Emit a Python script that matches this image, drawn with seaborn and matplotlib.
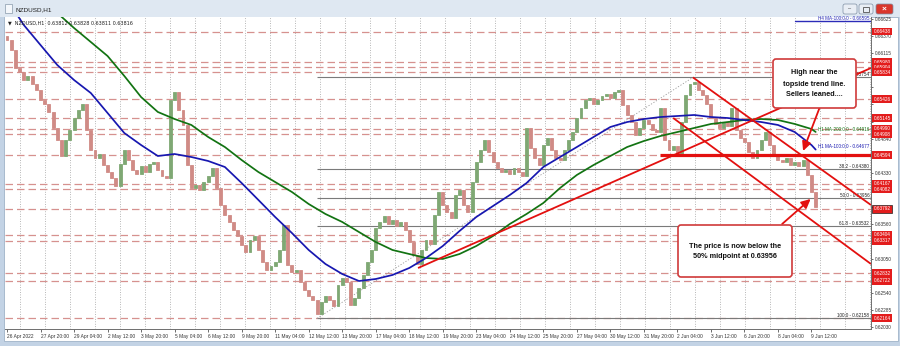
import numpy as np
import pandas as pd
import matplotlib
matplotlib.use("Agg")
import matplotlib.pyplot as plt
import matplotlib.transforms as mtransforms
import seaborn as sns
from matplotlib.patches import FancyBboxPatch, Rectangle

# ---------------- data ----------------
# 4-hour sampled closes of NZDUSD H1, 26 Apr 2022 -> 9 Jun 2022
first_open = 0.66370
closes = [
    0.66312, 0.66163, 0.65894, 0.65834, 0.65715, 0.65775, 0.65655, 0.65566, 0.65417, 0.65357,
    0.65238, 0.64999, 0.64820, 0.64581, 0.64820, 0.64969, 0.65148, 0.65267, 0.65357, 0.64969,
    0.64671, 0.64551, 0.64611, 0.64447, 0.64342, 0.64253, 0.64134, 0.64462, 0.64671, 0.64521,
    0.64372, 0.64313, 0.64432, 0.64342, 0.64462, 0.64492, 0.64372, 0.64283, 0.64253, 0.65417,
    0.65536, 0.65267, 0.65044, 0.64447, 0.64104, 0.64149, 0.64074, 0.64193, 0.64283, 0.64402,
    0.64104, 0.63850, 0.63701, 0.63597, 0.63477, 0.63388, 0.63253, 0.63149, 0.63328, 0.63388,
    0.63179, 0.63000, 0.62880, 0.62940, 0.63000, 0.63179, 0.63552, 0.62955, 0.62851, 0.62880,
    0.62701, 0.62582, 0.62493, 0.62433, 0.62224, 0.62403, 0.62493, 0.62433, 0.62343, 0.62657,
    0.62761, 0.62701, 0.62358, 0.62463, 0.62612, 0.62806, 0.63000, 0.63179, 0.63507, 0.63597,
    0.63686, 0.63567, 0.63626, 0.63537, 0.63597, 0.63477, 0.63298, 0.63104, 0.62970, 0.63179,
    0.63328, 0.63268, 0.63701, 0.64044, 0.63850, 0.63746, 0.63656, 0.63999, 0.64074, 0.63850,
    0.63746, 0.64193, 0.64492, 0.64671, 0.64820, 0.64641, 0.64492, 0.64402, 0.64342, 0.64372,
    0.64313, 0.64402, 0.64342, 0.64283, 0.64999, 0.64700, 0.64551, 0.64447, 0.64745, 0.64850,
    0.64671, 0.64551, 0.64521, 0.64671, 0.64820, 0.64939, 0.65148, 0.65297, 0.65417, 0.65446,
    0.65357, 0.65417, 0.65476, 0.65506, 0.65446, 0.65536, 0.65566, 0.65342, 0.65193, 0.65088,
    0.64894, 0.64999, 0.65118, 0.65059, 0.64969, 0.64939, 0.65297, 0.64820, 0.64671, 0.64730,
    0.64596, 0.65088, 0.65491, 0.65655, 0.65685, 0.65566, 0.65491, 0.65357, 0.65148, 0.65059,
    0.64999, 0.65088, 0.65029, 0.65297, 0.64969, 0.64850, 0.64790, 0.64641, 0.64551, 0.64671,
    0.64820, 0.64939, 0.64745, 0.64611, 0.64521, 0.64492, 0.64551, 0.64447, 0.64492, 0.64432,
    0.64521, 0.64298, 0.64044, 0.63816,
]

ma_x = list(range(0, 193, 4)) + [193]
ma100 = [
    0.66920, 0.66536, 0.66237, 0.65939, 0.65715, 0.65521, 0.65223, 0.64924, 0.64745, 0.64581,
    0.64611, 0.64566, 0.64507, 0.64417, 0.64178, 0.63925, 0.63671, 0.63432, 0.63179, 0.62970,
    0.62821, 0.62716, 0.62746, 0.62806, 0.62910, 0.63059, 0.63238, 0.63462, 0.63671, 0.63835,
    0.63999, 0.64178, 0.64417, 0.64566, 0.64715, 0.64865, 0.65014, 0.65088, 0.65133, 0.65163,
    0.65178, 0.65193, 0.65163, 0.65148, 0.65118, 0.65088, 0.65044, 0.64939, 0.64745, 0.64677,
]
ma200 = [
    0.67356, 0.67147, 0.66938, 0.66715, 0.66491, 0.66282, 0.66073, 0.65775, 0.65461, 0.65238,
    0.65133, 0.65044, 0.64865, 0.64715, 0.64521, 0.64342, 0.64193, 0.64044, 0.63865, 0.63716,
    0.63597, 0.63447, 0.63298, 0.63179, 0.63119, 0.63059, 0.63045, 0.63119, 0.63238, 0.63388,
    0.63567, 0.63716, 0.63880, 0.64104, 0.64298, 0.64447, 0.64581, 0.64715, 0.64805, 0.64880,
    0.64939, 0.64999, 0.65059, 0.65088, 0.65118, 0.65133, 0.65118, 0.65059, 0.64984, 0.64940,
]
h4_ma_x = [188, 193]
h4_ma = [0.66595, 0.66595]

levels = [0.66438, 0.65980, 0.65904, 0.65834, 0.65426, 0.65145, 0.64990, 0.64908,
          0.64594, 0.64167, 0.64082, 0.63792, 0.63404, 0.63317, 0.62832, 0.62722, 0.62164]
support_level = 0.64594
support_start = 155.8

fib_low = 0.62158
fib_high = 0.65754
fib_low_t = 74.0
fib_high_t = 163.7
fib_pcts = [0.0, 38.2, 50.0, 61.8, 100.0]

price_ticks = [0.66625, 0.66370, 0.66115, 0.65860, 0.65605, 0.65350, 0.65095, 0.64840,
               0.64585, 0.64330, 0.64075, 0.63820, 0.63560, 0.63305, 0.63050, 0.62795,
               0.62540, 0.62285, 0.62030]
# tick labels that are not hidden behind the red level labels
visible_ticks = [0.66625, 0.66370, 0.66115, 0.64840, 0.64330, 0.63560, 0.63050,
                 0.62540, 0.62285, 0.62030]

time_labels = ["26 Apr 2022", "27 Apr 20:00", "29 Apr 04:00", "2 May 12:00", "3 May 20:00",
               "5 May 04:00", "6 May 12:00", "9 May 20:00", "11 May 04:00", "12 May 12:00",
               "13 May 20:00", "17 May 04:00", "18 May 12:00", "19 May 20:00", "23 May 04:00",
               "24 May 12:00", "25 May 20:00", "27 May 04:00", "30 May 12:00", "31 May 20:00",
               "2 Jun 04:00", "3 Jun 12:00", "6 Jun 20:00", "8 Jun 04:00", "9 Jun 12:00"]
label_every = 8  # candles (of 4 hours) between time labels

# trend lines: (t0, p0, t1, p1)
trend_lines = [
    (163.7, 0.65754, 206.2, 0.63850),
    (159.0, 0.65148, 206.2, 0.62970),
    (98.1, 0.62910, 206.2, 0.65894),
]
# arrows: (t_from, p_from, t_to, p_to)
arrows = [
    (194.0, 0.65312, 190.0, 0.64656),
    (185.0, 0.63567, 191.8, 0.63940),
]

# ---------------- figure ----------------
sns.set_theme(style="white")
plt.rcParams['font.family'] = ['Liberation Sans', 'DejaVu Sans']

W, H = 900, 346
fig = plt.figure(figsize=(W / 100, H / 100), dpi=100, facecolor='#c3d3e5')

bg = fig.add_axes([0, 0, 1, 1])
bg.set_xlim(0, W); bg.set_ylim(H, 0); bg.axis('off'); bg.set_zorder(0)
bg.add_patch(Rectangle((0, 0), W, 17, facecolor='#dfe8f2', edgecolor='none'))
bg.add_patch(Rectangle((4, 17), 894, 324, facecolor='white', edgecolor='#9fb3c8', lw=0.6))

L, R, T, B = 5, 871, 17, 329
ax = fig.add_axes([L / W, 1 - B / H, (R - L) / W, (B - T) / H])
ax.set_zorder(1)
ax.set_facecolor('white')

px_per_t = 4.19
x0 = -(7 - L) / px_per_t
x1 = (R - 7) / px_per_t
ax.set_xlim(x0, x1)
ax.set_ylim(0.62000, 0.66655)

# vertical dotted grid
grid_x = np.arange((20 - 7) / px_per_t, x1, 25 / px_per_t)
for gx in grid_x:
    ax.axvline(gx, color='#8c8c8c', lw=0.55, ls=(0, (1, 2.2)), zorder=1)

# dashed levels
for lv in levels:
    ax.axhline(lv, color='#d6918f', lw=0.9, ls=(0, (6, 3.2)), zorder=1.5)

# fib retracement
fib_range = fib_high - fib_low
for pct in fib_pcts:
    lv = fib_high - pct / 100 * fib_range
    ax.hlines(lv, fib_low_t, x1, color='#7a7a7a', lw=0.8, zorder=1.6)
    ax.text(x1 - 0.4, lv + 0.00004, f"{pct:.1f} - {lv:.5f}", ha='right', va='bottom',
            fontsize=3.3, color='#222222', zorder=2)
ax.plot([fib_low_t, fib_high_t], [fib_low, fib_high], color='#9a9a9a', lw=0.6,
        ls=(0, (1.5, 2)), zorder=1.7)

# candles
df = pd.DataFrame({'t': np.arange(len(closes)), 'close': closes})
df['open'] = [first_open] + closes[:-1]
up = df['close'] >= df['open']
cols = np.where(up, '#7fa874', '#d08b86')
ax.bar(df['t'], df['close'] - df['open'], bottom=df['open'], width=0.7,
       color=cols, edgecolor=cols, linewidth=0.6, zorder=3)

# moving averages
ma_df = pd.DataFrame({'t': ma_x, 'ma100': ma100, 'ma200': ma200})
sns.lineplot(data=ma_df, x='t', y='ma200', ax=ax, color='#127312', lw=1.25, zorder=4)
sns.lineplot(data=ma_df, x='t', y='ma100', ax=ax, color='#1717b0', lw=1.25, zorder=4)
sns.lineplot(x=h4_ma_x + [x1], y=h4_ma + [h4_ma[-1]], ax=ax, color='#2b2bb8', lw=1.0, zorder=4)
ax.text(193.5, ma200[-1] + 0.00006, "H1 MA-200:0.0 - 0.64916", fontsize=3.3,
        color='#127312', ha='left', va='bottom', zorder=5)
ax.text(193.5, ma100[-1] + 0.00006, f"H1 MA-100:0.0 - {ma100[-1]:.5f}", fontsize=3.3,
        color='#1717b0', ha='left', va='bottom', zorder=5)
ax.text(x1 - 0.4, h4_ma[-1] + 0.00004, f"H4 MA-100:0.0 - {h4_ma[-1]:.5f}", fontsize=3.3,
        color='#2b2bb8', ha='right', va='bottom', zorder=5)

# support line
ax.hlines(support_level, support_start, x1, color='#e3100f', lw=2.3, zorder=5)

# trend lines
for t0, p0, t1, p1 in trend_lines:
    ax.plot([t0, t1], [p0, p1], color='#e3100f', lw=1.3, zorder=5, solid_capstyle='butt')

for tf, pf, tt, pt in arrows:
    ax.annotate('', xy=(tt, pt), xytext=(tf, pf),
                arrowprops=dict(arrowstyle='-|>,head_length=0.45,head_width=0.22',
                                color='#e3100f', lw=1.3, shrinkA=0, shrinkB=0),
                zorder=6, annotation_clip=False)

# axes cosmetics
for side in ['left', 'top']:
    ax.spines[side].set_visible(False)
for side in ['right', 'bottom']:
    ax.spines[side].set_color('#6e6e6e')
    ax.spines[side].set_linewidth(0.7)
ax.set_xlabel(''); ax.set_ylabel('')
ax.yaxis.tick_right()
ax.set_yticks(price_ticks)
ax.set_yticklabels([f"{v:.5f}" if v in visible_ticks else "" for v in price_ticks])
ax.tick_params(axis='y', right=True, length=1.5, width=0.5, pad=1.2, labelsize=3.4,
               colors='#333333')
ax.set_xticks([label_every * k for k in range(len(time_labels))])
ax.set_xticklabels(time_labels, ha='left')
ax.tick_params(axis='x', bottom=True, length=1.8, width=0.5, pad=1.5, labelsize=3.5,
               colors='#333333')

# red price labels on the axis
trans = mtransforms.blended_transform_factory(ax.transAxes, ax.transData)
for lv in levels:
    ec = '#222222' if abs(lv - 0.63792) < 1e-6 else 'none'
    ax.text(1.0028, lv, f"{lv:.5f}", transform=trans, ha='left', va='center',
            fontsize=3.4, color='white', clip_on=False, zorder=7,
            bbox=dict(boxstyle='square,pad=0.3', fc='#e31c1c', ec=ec, lw=0.5))

# ---------------- overlay (window chrome & callouts) ----------------
ov = fig.add_axes([0, 0, 1, 1], facecolor='none')
ov.set_xlim(0, W); ov.set_ylim(H, 0); ov.axis('off'); ov.set_zorder(3)

ov.add_patch(Rectangle((5, 4), 7, 9, facecolor='#f4f7fb', edgecolor='#8899aa', lw=0.5))
ov.text(16, 9.5, "NZDUSD,H1", fontsize=4.6, color='#1e1e1e', va='center', ha='left')
ov.text(8, 23, "\u25bc  NZDUSD,H1  0.63812 0.63828 0.63811 0.63816", fontsize=3.5,
        color='#222222', va='center', ha='left', family=['DejaVu Sans'])
for bx, fc in [(843, '#e9eef5'), (859, '#e9eef5'), (876, '#d9372c')]:
    ov.add_patch(FancyBboxPatch((bx, 4), 14 if bx < 870 else 17, 10,
                                boxstyle='round,pad=0,rounding_size=2',
                                facecolor=fc, edgecolor='#7d8ea3', lw=0.5))
ov.text(850, 9, "\u2013", fontsize=4, ha='center', va='center', color='#333333')
ov.add_patch(Rectangle((863, 6.5), 6, 5, facecolor='none', edgecolor='#333333', lw=0.5))
ov.text(884.5, 9, "\u00d7", fontsize=6, ha='center', va='center', color='white',
        fontweight='bold')

# callout boxes
ov.add_patch(FancyBboxPatch((773, 59), 83, 49, boxstyle='round,pad=0,rounding_size=3',
                            facecolor='white', edgecolor='#d03a3a', lw=1.2))
for j, line in enumerate(["High near the", "topside trend line.", "Sellers leaned...."]):
    ov.text(814.5, 73 + 11 * j, line, fontsize=5.2, fontweight='bold', ha='center',
            va='center', color='#111111')
ov.add_patch(FancyBboxPatch((678, 225), 114, 52, boxstyle='round,pad=0,rounding_size=3',
                            facecolor='white', edgecolor='#d03a3a', lw=1.2))
for j, line in enumerate(["The price is now below the", "50% midpoint at 0.63956"]):
    ov.text(735, 246 + 10 * j, line, fontsize=5.2, fontweight='bold', ha='center',
            va='center', color='#111111')

fig.savefig("out.png", dpi=100, facecolor=fig.get_facecolor())
